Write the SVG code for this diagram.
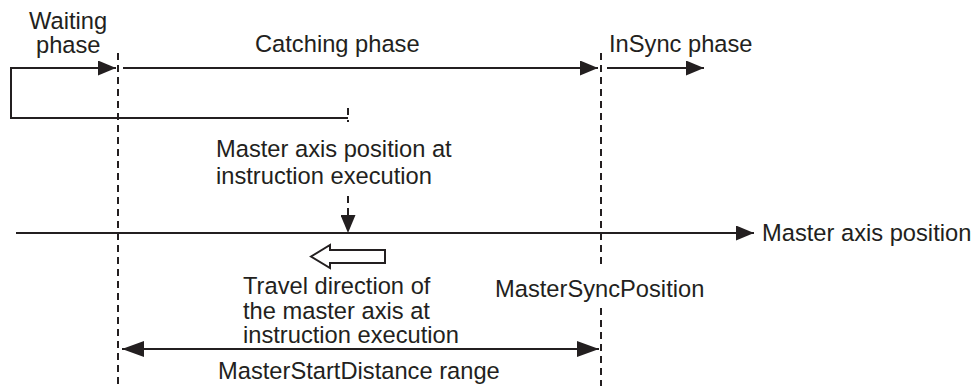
<svg xmlns="http://www.w3.org/2000/svg" width="976" height="386" viewBox="0 0 976 386">
<defs>
<marker id="ah" viewBox="0 0 18 15" refX="18" refY="7.5" markerWidth="18" markerHeight="15" markerUnits="userSpaceOnUse" orient="auto-start-reverse">
<path d="M0,0 L18,7.5 L0,15 Z" fill="#231f20"/>
</marker>
<marker id="ah2" viewBox="0 0 22 16" refX="22" refY="8" markerWidth="22" markerHeight="16" markerUnits="userSpaceOnUse" orient="auto-start-reverse">
<path d="M0,0 L22,8 L0,16 Z" fill="#231f20"/>
</marker>
</defs>
<style>
text{font-family:"Liberation Sans",Arial,sans-serif;font-size:23.7px;fill:#231f20}
.ln{stroke:#231f20;stroke-width:2;fill:none}
.ds{stroke:#231f20;stroke-width:2;fill:none;stroke-dasharray:7,5}
</style>
<rect width="976" height="386" fill="#ffffff"/>
<g id="connectors">
<path class="ln" d="M116,68 L11,68 L11,118 L348,118" marker-start="url(#ah)"/>
<line class="ln" x1="123" y1="68" x2="598" y2="68" marker-end="url(#ah)"/>
<line class="ln" x1="607" y1="68" x2="704" y2="68" marker-end="url(#ah)"/>
<line class="ds" x1="118" y1="53" x2="118" y2="386"/>
<line class="ds" x1="601" y1="53" x2="601" y2="268"/>
<line class="ds" x1="601" y1="308" x2="601" y2="386"/>
<line class="ds" x1="348" y1="108" x2="348" y2="122"/>
<line class="ds" x1="348" y1="196" x2="348" y2="233" marker-end="url(#ah)"/>
<line class="ln" x1="16" y1="233" x2="754" y2="233" marker-end="url(#ah)"/>
<line class="ln" x1="122" y1="349" x2="599" y2="349" marker-start="url(#ah2)" marker-end="url(#ah2)"/>
<polygon points="311,256.5 330,245 330,250 385,250 385,263 330,263 330,268" fill="#ffffff" stroke="#231f20" stroke-width="2"/>
</g>
<g id="waiting"><text x="29" y="29">Waiting</text><text x="36" y="53">phase</text></g>
<g id="catching"><text x="255" y="52">Catching phase</text></g>
<g id="insync"><text x="609" y="52">InSync phase</text></g>
<g id="masterpos"><text x="216" y="157">Master axis position at</text><text x="216" y="184">instruction execution</text></g>
<g id="axis"><text x="762" y="241">Master axis position</text></g>
<g id="travel"><text x="243" y="294">Travel direction of</text><text x="243" y="319">the master axis at</text><text x="243" y="343">instruction execution</text></g>
<g id="syncpos"><text x="495" y="297">MasterSyncPosition</text></g>
<g id="range"><text x="218" y="379">MasterStartDistance range</text></g>
</svg>
